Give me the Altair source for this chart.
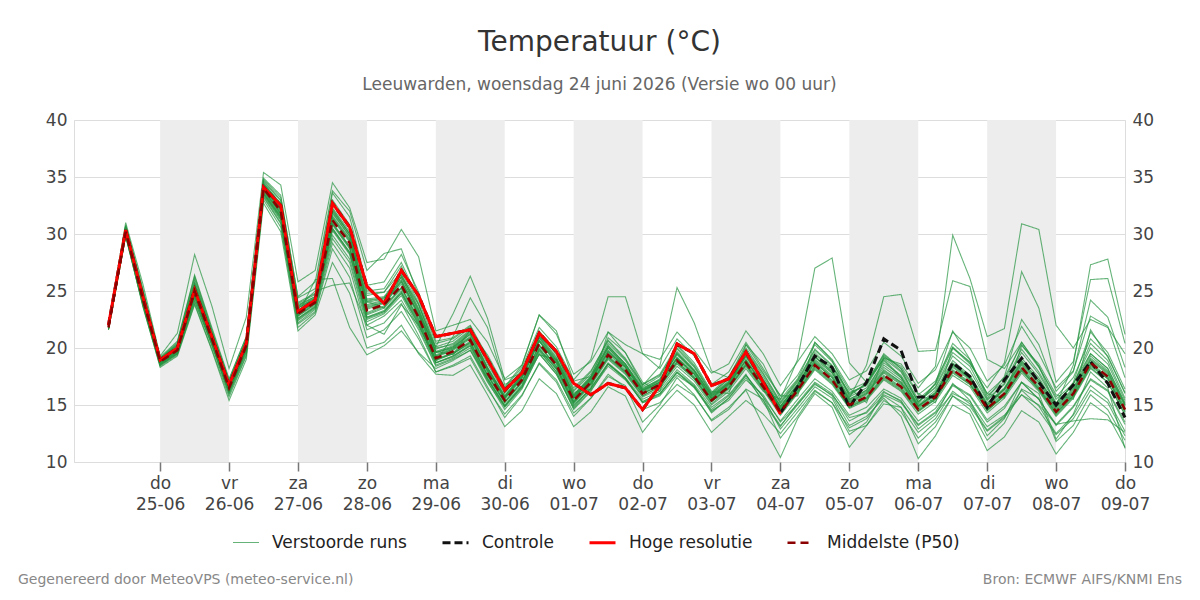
import altair as alt
import pandas as pd

# ---------------- texts ----------------
title_text = "Temperatuur (°C)"
subtitle_text = "Leeuwarden, woensdag 24 juni 2026 (Versie wo 00 uur)"
footer_left = "Gegenereerd door MeteoVPS (meteo-service.nl)"
footer_right = "Bron: ECMWF AIFS/KNMI Ens"

series_names = ["Verstoorde runs", "Controle", "Hoge resolutie", "Middelste (P50)"]
series_colors = ["#259440", "#111111", "#ff0000", "#8b0000"]
series_dash = [[1, 0], [8, 4], [1, 0], [8, 5]]
series_width = [1.1, 3, 3, 2.5]
series_opacity = [0.7, 1, 1, 1]

day_names = ["zo", "ma", "di", "wo", "do", "vr", "za"]
tick_days = [(6, 25), (6, 26), (6, 27), (6, 28), (6, 29), (6, 30), (7, 1), (7, 2),
             (7, 3), (7, 4), (7, 5), (7, 6), (7, 7), (7, 8), (7, 9)]
band_days = [(6, 25), (6, 27), (6, 29), (7, 1), (7, 3), (7, 5), (7, 7)]

# first forecast step and step length (6 h)
first_time = "2026-06-24T06:00"
step = "6h"

# ---------------- data (°C, 6-hourly) ----------------
hres = [22.0, 30.35, 24.5, 18.95, 20.0, 25.1, 21.0, 16.75, 20.4, 34.1, 32.5, 23.2, 24.2, 32.7,
        30.6, 25.4, 23.9, 26.8, 24.6, 21.0, 21.3, 21.6, 19.0, 16.3, 17.8, 21.3, 19.7, 16.9,
        15.9, 16.9, 16.5, 14.6, 16.7, 20.35, 19.5, 16.7, 17.3, 19.65, 17.0, 14.2]

control = [22.0, 30.35, 24.5, 18.95, 20.0, 25.1, 21.0, 16.75, 20.4, 34.1, 32.5, 23.2, 24.2, 32.7,
           30.6, 25.4, 23.9, 26.8, 24.6, 21.0, 21.3, 21.6, 19.0, 16.3, 17.8, 21.3, 19.7, 16.9,
           15.9, 16.9, 16.5, 14.6, 16.7, 20.35, 19.5, 16.7, 17.3, 19.65, 17.0, 14.3,
           16.6, 19.3, 18.3, 14.8, 17.0, 20.8, 19.8, 15.7, 15.7, 18.7, 17.5, 14.8, 17.2, 19.1,
           17.0, 15.0, 16.75, 18.8, 16.9, 13.9]

p50 = [21.8, 30.2, 24.3, 18.8, 19.8, 25.0, 20.8, 16.5, 20.2, 34.0, 32.0, 23.0, 24.0, 31.2, 29.2,
       23.3, 23.8, 25.5, 22.7, 19.1, 19.7, 20.7, 17.8, 15.4, 17.2, 20.4, 18.5, 15.4, 17.0, 19.4,
       18.1, 16.0, 16.8, 18.9, 17.5, 15.4, 16.6, 18.7, 16.6, 14.4, 16.3, 18.5, 17.2, 15.0, 15.7,
       17.6, 16.6, 14.6, 15.7, 18.1, 17.0, 14.7, 16.0, 18.3, 16.6, 14.4, 16.0, 18.7, 17.5, 14.6]

m01 = [22.0, 30.6, 24.9, 19.1, 20.3, 25.9, 21.4, 17.0, 20.7, 34.6, 32.9, 23.9, 24.7, 32.8, 30.5, 24.8, 24.9, 27.2, 23.9, 19.9, 20.4, 21.6, 18.6, 16.0, 17.9, 21.3, 19.4, 16.2, 17.7, 20.4, 18.9, 16.6, 17.5, 19.9, 18.3, 16.0, 17.3, 19.7, 17.5, 15.1, 17.0, 19.6, 18.1, 15.7, 16.5, 18.7, 17.6, 15.3, 16.5, 19.3, 18.0, 15.4, 16.8, 19.6, 17.7, 15.1, 16.8, 20.0, 18.6, 15.4]
m02 = [21.6, 29.8, 23.8, 18.5, 19.5, 24.2, 20.2, 16.0, 19.6, 33.3, 31.0, 22.2, 23.4, 29.6, 27.5, 22.0, 22.8, 24.2, 21.6, 18.4, 19.0, 19.8, 17.0, 14.8, 16.5, 19.5, 17.7, 14.7, 16.3, 18.4, 17.2, 15.3, 16.0, 17.8, 16.6, 14.6, 15.8, 17.6, 15.7, 13.6, 15.5, 17.3, 16.2, 14.1, 14.8, 16.4, 15.6, 13.6, 14.7, 16.8, 15.9, 13.7, 14.9, 17.0, 15.5, 13.3, 14.9, 17.3, 16.3, 13.5]
m03 = [21.9, 30.3, 24.6, 18.9, 20.0, 25.4, 21.1, 16.6, 20.4, 34.3, 32.4, 23.3, 24.3, 31.9, 29.8, 23.8, 24.2, 26.0, 22.9, 20.1, 23.0, 26.3, 22.6, 17.2, 17.8, 21.0, 19.6, 15.8, 17.4, 20.2, 18.6, 16.3, 17.2, 19.4, 17.9, 15.6, 17.0, 19.3, 17.1, 14.7, 16.6, 19.0, 17.8, 15.4, 16.2, 18.3, 17.2, 14.9, 16.1, 18.7, 17.5, 15.0, 16.4, 18.9, 17.2, 14.8, 16.4, 19.3, 18.0, 15.0]
m04 = [21.8, 30.1, 24.2, 18.7, 19.7, 24.8, 20.7, 16.3, 20.0, 33.8, 31.7, 22.8, 23.8, 30.8, 28.7, 22.7, 23.3, 25.0, 22.3, 18.8, 21.0, 24.4, 21.8, 16.8, 17.6, 20.7, 18.9, 15.6, 17.1, 19.7, 18.3, 16.1, 16.9, 19.1, 17.7, 15.5, 16.7, 18.9, 16.8, 14.5, 16.4, 18.7, 17.4, 15.1, 15.9, 17.8, 16.8, 14.7, 15.9, 18.3, 17.2, 14.8, 16.1, 18.5, 16.8, 14.5, 16.1, 18.9, 17.7, 14.7]
m05 = [22.1, 30.8, 25.2, 19.2, 20.6, 26.4, 21.8, 17.3, 21.0, 34.9, 33.4, 24.4, 25.2, 33.6, 31.5, 25.5, 25.8, 28.2, 24.9, 20.6, 20.9, 22.0, 19.2, 16.5, 18.3, 21.8, 20.1, 17.2, 19.0, 24.5, 24.5, 19.5, 18.2, 20.8, 19.3, 16.8, 17.9, 20.5, 18.2, 15.8, 17.6, 20.3, 18.8, 16.3, 17.0, 19.4, 18.2, 15.9, 17.1, 20.1, 18.7, 16.0, 17.4, 20.3, 18.3, 15.7, 17.4, 20.8, 19.3, 16.0]
m06 = [21.7, 30.0, 24.0, 18.6, 19.6, 24.6, 20.5, 16.2, 19.9, 33.6, 31.5, 22.5, 23.6, 30.3, 28.2, 22.5, 23.1, 24.8, 22.0, 18.7, 19.3, 20.3, 17.4, 15.0, 16.8, 19.9, 18.1, 15.1, 16.7, 19.0, 17.7, 15.7, 16.4, 18.4, 17.1, 15.0, 16.2, 18.2, 16.2, 15.5, 19.0, 27.0, 27.9, 18.7, 17.0, 19.0, 17.5, 14.9, 16.0, 18.6, 17.3, 14.5, 15.8, 18.0, 16.3, 14.1, 15.7, 18.3, 17.0, 14.2]
m07 = [22.0, 30.4, 24.5, 18.9, 20.1, 25.5, 21.2, 16.8, 20.5, 34.2, 32.5, 23.5, 24.4, 32.0, 30.0, 24.0, 24.3, 26.2, 23.3, 19.6, 20.1, 21.2, 18.2, 15.7, 17.5, 20.9, 19.0, 15.7, 17.3, 20.0, 18.4, 16.3, 17.0, 19.5, 18.0, 15.8, 16.9, 19.2, 17.0, 14.8, 16.6, 19.2, 18.0, 15.6, 18.5, 24.5, 24.7, 19.7, 19.8, 25.9, 25.4, 19.0, 18.2, 20.5, 18.4, 15.5, 16.9, 19.5, 18.2, 15.2]
m08 = [21.9, 30.5, 24.7, 19.0, 20.2, 25.7, 21.3, 16.9, 20.6, 34.4, 32.7, 23.7, 24.5, 32.3, 30.2, 24.3, 24.5, 26.5, 23.5, 19.7, 20.2, 21.4, 18.3, 15.8, 17.7, 21.1, 19.2, 15.9, 17.5, 20.2, 18.6, 16.4, 17.3, 19.7, 18.1, 15.9, 17.1, 19.5, 17.3, 14.9, 16.8, 19.4, 18.3, 15.9, 16.9, 19.1, 18.6, 16.5, 18.4, 29.9, 26.1, 21.0, 21.7, 30.9, 30.4, 22.0, 20.0, 22.5, 21.8, 19.5]
m09 = [21.8, 30.2, 24.4, 18.8, 19.9, 25.1, 20.9, 16.6, 20.3, 34.1, 32.1, 23.1, 24.1, 31.4, 29.4, 23.5, 24.0, 25.8, 22.9, 19.3, 19.9, 20.9, 18.0, 15.6, 17.4, 20.6, 18.7, 15.6, 17.2, 19.6, 18.3, 16.2, 17.0, 19.1, 17.7, 15.6, 16.8, 18.9, 16.8, 14.6, 16.5, 18.8, 17.5, 15.3, 16.0, 18.0, 17.0, 14.9, 16.0, 18.5, 17.4, 15.0, 16.4, 18.8, 17.2, 15.0, 18.5, 27.3, 27.8, 21.2]
m10 = [22.0, 30.7, 25.0, 19.1, 20.4, 26.1, 21.5, 17.1, 20.8, 34.7, 33.0, 24.0, 24.8, 33.0, 30.8, 25.0, 25.2, 27.5, 24.2, 20.1, 20.6, 21.8, 18.8, 16.1, 18.0, 21.5, 19.6, 16.3, 17.9, 20.7, 19.1, 16.8, 17.7, 20.2, 18.5, 16.1, 17.5, 20.0, 17.8, 15.3, 17.2, 19.9, 18.5, 16.0, 16.8, 19.3, 18.0, 15.5, 16.8, 20.0, 18.6, 16.5, 18.7, 26.7, 23.5, 17.0, 18.8, 26.0, 26.1, 20.4]
m11 = [21.6, 29.9, 23.6, 18.4, 19.4, 23.9, 19.9, 15.7, 19.3, 33.0, 30.6, 21.8, 23.1, 28.7, 26.2, 20.9, 21.6, 23.2, 20.8, 17.9, 18.4, 19.1, 16.4, 14.2, 15.9, 18.6, 17.0, 14.0, 15.6, 17.7, 16.5, 14.6, 15.2, 16.8, 15.8, 13.7, 14.8, 16.3, 13.2, 10.4, 13.8, 16.0, 14.8, 11.3, 13.2, 15.4, 14.4, 12.1, 13.5, 15.8, 14.9, 12.7, 13.9, 15.9, 14.5, 12.4, 13.8, 16.3, 15.2, 12.3]
m12 = [21.7, 30.0, 23.9, 18.5, 19.5, 24.4, 20.4, 16.1, 19.7, 33.4, 31.2, 22.4, 23.5, 29.9, 27.8, 22.3, 23.0, 24.6, 21.8, 18.5, 19.1, 20.0, 17.1, 14.6, 16.4, 19.5, 17.7, 14.8, 16.5, 18.6, 17.3, 15.3, 16.0, 17.9, 16.5, 14.4, 15.6, 17.4, 15.4, 13.2, 15.0, 16.9, 15.8, 13.2, 14.0, 15.6, 14.0, 10.3, 12.3, 15.0, 14.2, 11.0, 12.2, 14.5, 13.5, 10.7, 12.6, 15.2, 14.1, 11.3]
m13 = [21.6, 29.8, 23.7, 18.3, 19.3, 23.8, 19.8, 15.4, 19.0, 32.7, 30.2, 21.5, 22.9, 27.5, 24.8, 20.0, 20.5, 22.0, 19.5, 17.7, 17.6, 18.5, 15.9, 13.1, 14.5, 17.3, 16.0, 13.1, 14.4, 16.6, 15.8, 12.6, 14.6, 16.3, 15.0, 12.6, 14.0, 15.4, 14.2, 12.5, 14.4, 16.3, 15.2, 13.0, 13.8, 15.8, 14.8, 12.6, 13.8, 16.2, 15.1, 12.8, 14.0, 16.3, 14.9, 12.5, 14.1, 16.7, 15.5, 12.7]
m14 = [21.8, 30.1, 24.1, 18.6, 19.7, 24.7, 20.6, 16.3, 20.0, 33.6, 31.5, 22.9, 26.0, 26.1, 21.8, 19.4, 20.2, 21.5, 19.6, 18.2, 18.9, 19.8, 17.3, 14.9, 16.7, 19.9, 18.2, 15.2, 16.8, 19.2, 17.9, 15.8, 16.6, 18.6, 17.3, 15.3, 16.5, 18.5, 16.4, 14.2, 16.1, 18.2, 16.9, 14.8, 15.5, 17.3, 16.3, 14.4, 15.5, 17.8, 16.8, 14.5, 15.8, 18.1, 16.4, 14.2, 15.8, 18.4, 17.3, 14.4]
m15 = [21.9, 30.3, 24.5, 18.9, 20.0, 25.3, 21.0, 16.6, 20.3, 34.0, 32.2, 23.6, 25.0, 25.5, 25.7, 22.0, 21.2, 23.8, 22.0, 19.0, 19.5, 20.4, 17.6, 15.2, 17.0, 20.2, 18.3, 15.3, 16.9, 19.3, 18.0, 16.0, 16.7, 18.8, 17.4, 15.3, 16.5, 18.6, 16.5, 14.3, 16.2, 18.4, 17.1, 14.9, 15.6, 17.5, 16.5, 14.5, 15.6, 18.0, 16.9, 14.6, 15.9, 18.2, 16.5, 14.3, 15.9, 18.6, 17.4, 14.5]
m16 = [22.2, 31.0, 25.6, 19.3, 21.3, 28.2, 23.7, 18.2, 22.7, 35.4, 34.3, 25.8, 26.8, 34.5, 32.3, 27.5, 27.8, 30.4, 28.0, 21.5, 22.0, 22.5, 20.5, 17.3, 18.5, 22.9, 21.2, 17.7, 18.8, 21.4, 20.3, 19.5, 19.0, 21.4, 19.8, 17.8, 18.6, 21.5, 19.5, 16.7, 18.8, 21.0, 19.5, 17.2, 18.0, 20.5, 19.3, 16.9, 18.1, 21.4, 20.0, 17.1, 18.5, 21.9, 19.5, 16.5, 18.0, 22.8, 21.9, 17.4]
m17 = [21.8, 30.3, 24.3, 18.8, 19.9, 24.9, 20.8, 16.6, 20.2, 34.0, 32.0, 23.1, 24.1, 31.3, 29.3, 23.4, 23.9, 25.6, 22.8, 19.2, 19.8, 20.8, 17.9, 15.5, 17.3, 20.6, 18.6, 15.4, 17.0, 19.5, 18.1, 16.0, 16.8, 19.0, 17.5, 15.4, 16.6, 18.7, 16.6, 14.4, 16.3, 18.5, 17.2, 15.0, 15.7, 17.6, 16.6, 14.6, 15.7, 18.1, 17.0, 14.7, 16.0, 18.3, 16.6, 14.4, 16.0, 18.7, 17.5, 14.6]
m18 = [21.7, 30.0, 24.1, 18.6, 19.9, 24.6, 20.9, 16.4, 20.4, 33.7, 31.6, 23.2, 23.9, 30.5, 28.4, 24.1, 23.5, 26.3, 23.8, 19.7, 19.4, 21.6, 18.9, 16.4, 17.1, 19.4, 19.0, 16.1, 16.4, 21.4, 19.6, 17.0, 16.2, 20.3, 18.7, 16.2, 16.0, 20.3, 18.0, 15.8, 15.8, 20.5, 19.0, 16.5, 15.2, 19.2, 18.4, 16.0, 15.2, 20.0, 18.8, 16.0, 15.6, 20.2, 18.6, 15.9, 15.5, 21.6, 19.2, 16.1]
m19 = [21.9, 30.4, 24.4, 18.8, 19.7, 24.8, 20.6, 16.4, 20.0, 33.9, 31.8, 22.8, 23.9, 30.9, 28.9, 22.9, 23.5, 25.2, 22.4, 18.9, 19.5, 20.5, 17.6, 15.2, 17.0, 20.0, 18.2, 15.0, 16.4, 18.6, 17.4, 15.2, 15.8, 17.6, 16.6, 14.5, 15.4, 17.2, 15.9, 13.5, 15.1, 16.8, 15.9, 13.9, 14.3, 15.9, 15.2, 13.2, 14.3, 16.0, 15.3, 13.1, 14.1, 15.9, 15.0, 13.3, 13.6, 13.8, 13.7, 12.6]
m20 = [22.0, 30.6, 24.8, 19.0, 20.3, 25.6, 21.3, 16.9, 20.6, 34.5, 32.6, 23.8, 24.5, 32.2, 30.0, 24.6, 24.9, 26.7, 23.8, 20.0, 20.3, 21.5, 19.4, 16.6, 18.5, 22.9, 21.5, 17.1, 17.5, 20.9, 19.6, 16.7, 18.4, 25.3, 22.2, 18.0, 17.4, 20.3, 18.6, 15.5, 17.3, 20.5, 18.9, 15.8, 16.9, 19.5, 18.2, 15.2, 16.9, 20.4, 19.0, 15.8, 17.1, 20.5, 18.4, 14.9, 17.0, 21.4, 19.6, 16.4]
m21 = [21.7, 30.0, 24.0, 18.6, 19.6, 24.5, 20.4, 16.2, 19.8, 33.5, 31.4, 22.6, 23.7, 30.5, 28.4, 22.7, 23.2, 24.8, 22.1, 18.7, 19.3, 20.2, 17.3, 14.9, 16.6, 19.7, 17.9, 14.6, 16.2, 18.6, 17.3, 15.2, 15.9, 17.9, 16.7, 14.3, 15.6, 17.6, 15.7, 12.9, 14.7, 16.6, 15.6, 12.7, 13.2, 15.1, 14.8, 11.6, 13.1, 15.8, 14.6, 11.9, 13.4, 16.4, 15.6, 11.8, 13.2, 15.9, 14.6, 11.9]
m22 = [21.9, 30.4, 24.6, 18.9, 20.1, 25.5, 21.2, 16.8, 20.5, 34.3, 32.4, 23.5, 24.3, 31.8, 29.8, 24.1, 24.4, 26.2, 23.2, 19.6, 20.0, 21.2, 18.2, 15.7, 17.6, 20.9, 18.9, 15.8, 17.4, 20.0, 18.5, 16.4, 17.1, 19.5, 18.0, 15.8, 16.9, 19.3, 17.1, 14.9, 16.8, 19.3, 17.9, 15.5, 16.3, 18.9, 17.4, 15.1, 16.9, 21.5, 19.0, 15.6, 17.5, 22.5, 20.3, 16.2, 17.9, 24.2, 22.7, 18.3]
m23 = [22.1, 30.7, 25.0, 19.1, 20.5, 26.3, 21.6, 17.2, 21.0, 34.8, 33.2, 24.5, 25.8, 33.8, 32.0, 26.8, 28.3, 28.7, 24.5, 20.4, 20.8, 21.9, 19.0, 16.3, 18.1, 21.4, 19.5, 16.5, 18.0, 20.6, 19.0, 16.8, 17.6, 20.0, 18.4, 16.0, 17.3, 19.8, 17.7, 15.2, 17.1, 19.8, 18.4, 16.1, 16.7, 19.1, 17.9, 15.3, 16.6, 19.6, 18.4, 15.5, 16.9, 19.9, 17.9, 15.2, 16.8, 20.4, 18.9, 15.6]
m24 = [21.7, 29.9, 23.8, 18.5, 19.5, 24.1, 20.3, 15.9, 19.4, 33.2, 30.9, 22.1, 23.2, 29.2, 27.0, 21.6, 22.2, 23.9, 21.1, 17.9, 18.5, 19.3, 16.6, 13.9, 15.8, 18.7, 17.2, 14.3, 15.6, 17.5, 16.7, 13.5, 15.0, 17.4, 15.9, 13.6, 14.6, 16.4, 15.5, 12.1, 14.0, 16.2, 15.2, 12.4, 13.5, 16.1, 15.4, 12.9, 14.1, 16.9, 15.4, 12.3, 13.8, 17.0, 16.0, 12.0, 14.2, 17.9, 16.5, 11.2]
m25 = [21.8, 30.1, 24.3, 18.7, 19.8, 24.9, 20.7, 16.5, 20.1, 33.9, 31.9, 23.0, 24.0, 31.0, 28.9, 23.0, 23.6, 25.3, 22.5, 19.0, 19.6, 20.6, 17.7, 15.3, 17.1, 20.3, 18.4, 15.2, 16.9, 19.1, 17.8, 15.8, 16.6, 18.7, 17.3, 15.1, 16.4, 18.4, 16.3, 14.1, 16.0, 18.1, 16.8, 14.7, 15.4, 17.2, 16.2, 14.2, 15.3, 17.6, 16.6, 14.3, 15.6, 17.8, 16.2, 14.0, 15.6, 18.2, 17.0, 14.1]
m26 = [21.9, 30.4, 24.5, 18.9, 20.0, 25.2, 21.0, 16.7, 20.3, 34.2, 32.3, 23.3, 24.2, 31.6, 29.6, 23.7, 24.1, 25.9, 23.1, 19.4, 20.0, 21.0, 18.1, 15.6, 17.5, 20.7, 18.8, 15.7, 17.3, 19.8, 18.4, 16.3, 17.0, 19.2, 17.8, 15.7, 16.9, 19.0, 16.9, 14.7, 16.6, 18.9, 17.6, 15.3, 16.1, 18.1, 17.0, 14.9, 16.1, 18.6, 17.4, 15.1, 16.4, 18.7, 17.0, 14.7, 16.3, 19.1, 17.9, 15.0]
m27 = [21.8, 30.2, 24.2, 18.7, 19.8, 24.8, 20.7, 16.4, 20.1, 33.8, 31.8, 22.9, 23.9, 30.9, 28.8, 23.1, 23.7, 25.3, 22.6, 19.0, 19.5, 20.5, 17.6, 15.3, 17.0, 20.2, 18.4, 15.3, 16.9, 19.2, 17.9, 16.0, 16.7, 18.8, 17.4, 15.3, 16.5, 18.5, 16.5, 14.3, 16.2, 18.3, 17.0, 14.8, 15.6, 17.4, 16.4, 14.5, 15.5, 17.9, 16.8, 14.6, 15.8, 18.0, 16.4, 14.3, 15.8, 18.5, 17.3, 14.4]
m28 = [22.0, 30.5, 24.7, 19.0, 20.2, 25.6, 21.2, 16.8, 20.5, 34.4, 32.6, 23.6, 24.4, 32.1, 30.0, 24.2, 24.4, 26.4, 23.4, 19.6, 20.1, 21.3, 18.3, 15.8, 17.6, 21.0, 19.1, 15.9, 17.5, 20.1, 18.6, 16.5, 17.2, 19.6, 18.0, 15.9, 17.0, 19.4, 17.2, 14.9, 16.8, 19.2, 17.8, 15.5, 16.3, 18.5, 17.4, 15.0, 16.3, 18.9, 17.6, 15.2, 16.5, 19.1, 17.4, 14.9, 16.5, 19.5, 18.2, 15.1]
m29 = [21.7, 29.9, 24.0, 18.6, 19.6, 24.5, 20.5, 16.2, 19.9, 33.5, 31.3, 22.6, 23.6, 30.4, 28.3, 22.6, 23.2, 24.9, 22.2, 18.7, 19.2, 20.2, 17.2, 14.9, 16.6, 19.8, 17.9, 14.9, 16.5, 18.7, 17.4, 15.5, 16.2, 18.1, 16.8, 14.8, 15.9, 17.7, 15.2, 13.1, 15.2, 17.0, 16.0, 13.6, 14.4, 16.2, 15.3, 13.3, 14.4, 16.7, 15.8, 13.5, 14.7, 17.0, 15.5, 13.2, 14.8, 17.2, 16.2, 13.3]
m30 = [21.9, 30.4, 24.5, 18.8, 20.0, 25.2, 20.9, 16.6, 20.2, 34.1, 32.2, 23.2, 24.1, 31.5, 29.5, 23.6, 24.0, 25.8, 23.0, 19.3, 19.9, 20.9, 18.0, 15.6, 17.4, 20.6, 18.7, 15.6, 17.2, 19.7, 18.3, 16.2, 17.0, 19.1, 17.7, 15.6, 16.8, 18.9, 16.8, 14.6, 16.5, 18.7, 17.4, 15.2, 16.0, 17.9, 16.9, 14.8, 16.0, 18.4, 17.3, 14.9, 16.3, 18.6, 17.0, 14.6, 16.2, 19.0, 17.8, 14.9]

members = [m01, m02, m03, m04, m05, m06, m07, m08, m09, m10, m11, m12, m13, m14, m15,
           m16, m17, m18, m19, m20, m21, m22, m23, m24, m25, m26, m27, m28, m29, m30]

# ---------------- tables ----------------
times = pd.date_range(first_time, periods=len(p50), freq=step)
fmt = "%Y-%m-%dT%H:%M:%S"

rows = []
for k, m in enumerate(members):
    for t, v in zip(times, m):
        rows.append({"time": t.strftime(fmt), "temp": v, "series": series_names[0], "member": k})
df_members = pd.DataFrame(rows)
df_control = pd.DataFrame({"time": [t.strftime(fmt) for t in times], "temp": control,
                           "series": series_names[1]})
df_hres = pd.DataFrame({"time": [t.strftime(fmt) for t in times[:len(hres)]], "temp": hres,
                        "series": series_names[2]})
df_p50 = pd.DataFrame({"time": [t.strftime(fmt) for t in times], "temp": p50,
                       "series": series_names[3]})

band_start = [pd.Timestamp(2026, mo, d) for mo, d in band_days]
df_bands = pd.DataFrame({"start": [b.strftime(fmt) for b in band_start],
                         "end": [(b + pd.Timedelta(days=1)).strftime(fmt) for b in band_start]})

# ---------------- layout ----------------
W, H = 1051, 342
FONT = "DejaVu Sans"

x_domain = [alt.DateTime(year=2026, month=6, date=23, hours=18),
            alt.DateTime(year=2026, month=7, date=9, hours=0)]
tick_values = [alt.DateTime(year=2026, month=mo, date=d) for mo, d in tick_days]
names_js = "[" + ",".join("'%s'" % n for n in day_names) + "]"
x_axis = alt.Axis(values=tick_values, title=None, grid=False, domain=False,
                  labelExpr="[" + names_js + "[day(datum.value)], timeFormat(datum.value, '%d-%m')]",
                  labelFontSize=17, labelColor="#444", labelFont=FONT, labelLineHeight=21,
                  tickSize=9, tickColor="#777", tickWidth=1.5, labelPadding=4, labelFlush=False,
                  labelOverlap=False)
x_scale = alt.Scale(domain=x_domain)
y_scale = alt.Scale(domain=[10, 40], nice=False, zero=False)

legend = alt.Legend(title=None, orient="none", legendX=158, legendY=408, direction="horizontal",
                    labelFontSize=17, labelFont=FONT, labelColor="#222", symbolType="stroke",
                    symbolSize=676, labelOffset=12, columnPadding=29, symbolStrokeWidth=3)

color_enc = alt.Color("series:N", scale=alt.Scale(domain=series_names, range=series_colors),
                      legend=legend)
dash_enc = alt.StrokeDash("series:N", scale=alt.Scale(domain=series_names, range=series_dash),
                          legend=legend)
width_enc = alt.StrokeWidth("series:N", scale=alt.Scale(type="ordinal", domain=series_names,
                                                        range=series_width), legend=legend)
opac_enc = alt.Opacity("series:N", scale=alt.Scale(type="ordinal", domain=series_names,
                                                   range=series_opacity), legend=legend)


def xenc(field="time"):
    return alt.X(field + ":T", scale=x_scale, axis=x_axis)


bands = alt.Chart(df_bands).mark_rect(color="#ededed").encode(
    x=xenc("start"), x2="end:T")

members_layer = alt.Chart(df_members).mark_line().encode(
    x=xenc(), y=alt.Y("temp:Q", scale=y_scale,
                      axis=alt.Axis(orient="left", title=None, values=[10, 15, 20, 25, 30, 35, 40],
                                    grid=True, gridColor="#dddddd", domain=False, ticks=False,
                                    labelFontSize=17, labelColor="#444", labelFont=FONT,
                                    labelPadding=7)),
    color=color_enc, strokeDash=dash_enc, strokeWidth=width_enc, opacity=opac_enc,
    detail="member:N")

control_layer = alt.Chart(df_control).mark_line().encode(
    x=xenc(), y=alt.Y("temp:Q", scale=y_scale, axis=None),
    color=color_enc, strokeDash=dash_enc, strokeWidth=width_enc, opacity=opac_enc)

hres_layer = alt.Chart(df_hres).mark_line().encode(
    x=xenc(), y=alt.Y("temp:Q", scale=y_scale, axis=None),
    color=color_enc, strokeDash=dash_enc, strokeWidth=width_enc, opacity=opac_enc)

p50_layer = alt.Chart(df_p50).mark_line().encode(
    x=xenc(), y=alt.Y("temp:Q", scale=y_scale,
                      axis=alt.Axis(orient="right", title=None, values=[10, 15, 20, 25, 30, 35, 40],
                                    grid=False, domain=False, ticks=False, labelFontSize=17,
                                    labelColor="#444", labelFont=FONT, labelPadding=7)),
    color=color_enc, strokeDash=dash_enc, strokeWidth=width_enc, opacity=opac_enc)

df_foot = pd.DataFrame({"left": [footer_left], "right": [footer_right]})
foot_left = alt.Chart(df_foot).mark_text(align="left", baseline="middle", fontSize=14,
                                         color="#888", font=FONT).encode(
    text="left:N", x=alt.value(-56), y=alt.value(460))
foot_right = alt.Chart(df_foot).mark_text(align="right", baseline="middle", fontSize=14,
                                          color="#888", font=FONT).encode(
    text="right:N", x=alt.value(1108), y=alt.value(460))

chart = alt.layer(bands, members_layer, control_layer, hres_layer, p50_layer,
                  foot_left, foot_right).resolve_scale(y="independent").properties(
    width=W, height=H,
    title=alt.TitleParams(text=title_text, subtitle=subtitle_text, fontSize=28,
                          subtitleFontSize=17, font=FONT, subtitleFont=FONT, color="#333",
                          subtitleColor="#666", fontWeight="normal", anchor="middle",
                          offset=18, subtitlePadding=20),
    autosize=alt.AutoSizeParams(type="none"),
    padding={"left": 74, "top": 120, "right": 75, "bottom": 138},
).configure_view(stroke=None).configure(background="white")

chart.save("out.html", embed_options={"renderer": "svg", "actions": False})
